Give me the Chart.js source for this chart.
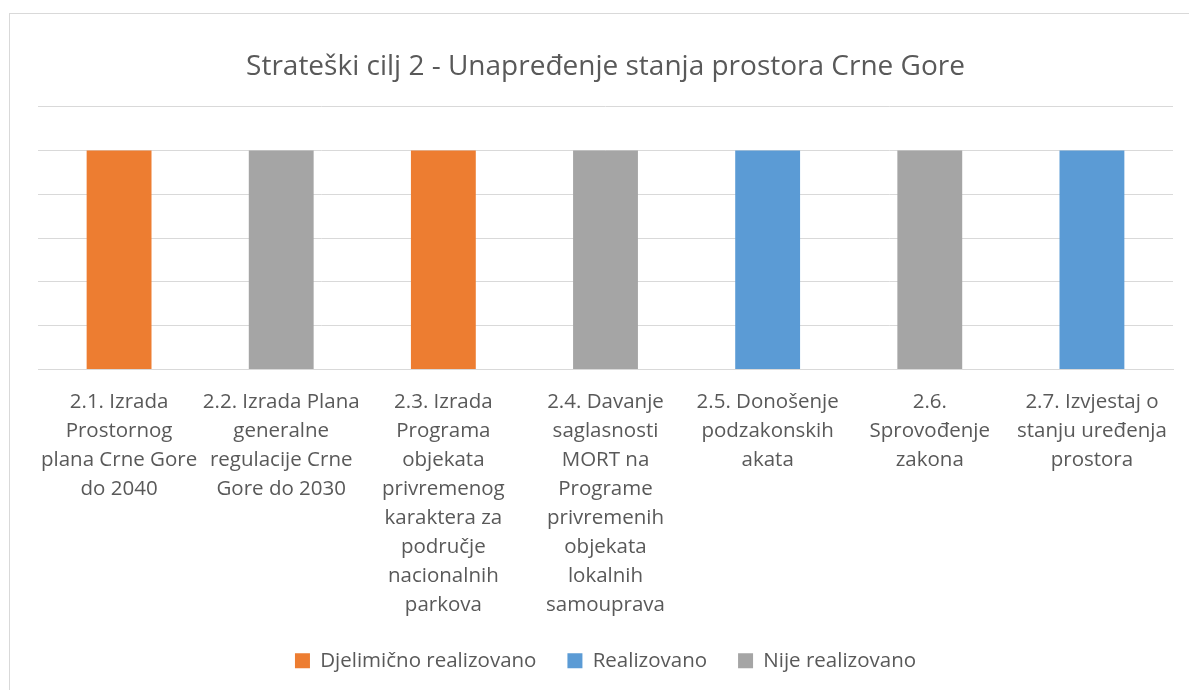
<!DOCTYPE html>
<html>
<head>
<meta charset="utf-8">
<script src="https://cdn.jsdelivr.net/npm/chart.js@4/dist/chart.umd.min.js"></script>
<style>
  html, body { margin: 0; padding: 0; background: #fff; }
  #frame { position: absolute; left: 9px; top: 13px; width: 1200px; height: 700px; border: 1px solid #d9d9d9; box-sizing: border-box; }
  #wrap { position: absolute; left: 0; top: 0; width: 1189px; height: 690px; }
</style>
</head>
<body>
<div id="frame"></div>
<div id="wrap"><canvas id="c" width="1189" height="690"></canvas></div>
<script>
const titleText = "Strateški cilj 2 - Unapređenje stanja prostora Crne Gore";
const categories = [
  ["2.1. Izrada", "Prostornog", "plana Crne Gore", "do 2040"],
  ["2.2. Izrada Plana", "generalne", "regulacije Crne", "Gore do 2030"],
  ["2.3. Izrada", "Programa", "objekata", "privremenog", "karaktera za", "područje", "nacionalnih", "parkova"],
  ["2.4. Davanje", "saglasnosti", "MORT na", "Programe", "privremenih", "objekata", "lokalnih", "samouprava"],
  ["2.5. Donošenje", "podzakonskih", "akata"],
  ["2.6.", "Sprovođenje", "zakona"],
  ["2.7. Izvjestaj o", "stanju uređenja", "prostora"]
];
const seriesNames = ["Djelimično realizovano", "Realizovano", "Nije realizovano"];
const djelimicno = [1, null, 1, null, null, null, null];
const realizovano = [null, null, null, null, 1, null, 1];
const nijeRealizovano = [null, 1, null, 1, null, 1, null];
const colors = ["#ED7D31", "#5B9BD5", "#A5A5A5"];

const font = "'Open Sans', 'Noto Sans', sans-serif";
new Chart(document.getElementById('c'), {
  type: 'bar',
  data: {
    labels: categories,
    datasets: [
      { label: seriesNames[0], data: djelimicno, backgroundColor: colors[0] },
      { label: seriesNames[1], data: realizovano, backgroundColor: colors[1] },
      { label: seriesNames[2], data: nijeRealizovano, backgroundColor: colors[2] }
    ]
  },
  options: {
    responsive: false,
    animation: false,
    layout: { padding: { left: 38, right: 16, top: 10, bottom: 9 } },
    datasets: { bar: { categoryPercentage: 1, barPercentage: 0.4 } },
    scales: {
      x: {
        stacked: true,
        afterFit: (s) => { s.height -= 18; },
        grid: { display: false, drawTicks: false },
        border: { display: true, color: '#d9d9d9', width: 1 },
        ticks: { color: '#595959', font: { family: font, size: 20.5, lineHeight: '29px' }, maxRotation: 0, minRotation: 0, autoSkip: false, padding: 18 }
      },
      y: {
        stacked: true,
        min: 0, max: 1.2,
        ticks: { display: false, stepSize: 0.2 },
        grid: { color: '#d9d9d9', lineWidth: 1, drawTicks: false },
        border: { display: false }
      }
    },
    plugins: {
      title: { display: true, text: titleText, color: '#595959', font: { family: font, size: 28, weight: 'normal', lineHeight: 1.2 }, padding: { top: 40, bottom: 23 } },
      legend: {
        position: 'bottom',
        labels: { color: '#595959', font: { family: font, size: 20.5 }, boxWidth: 15, boxHeight: 15, padding: 31 }
      },
      tooltip: { enabled: false }
    }
  }
});
</script>
</body>
</html>
